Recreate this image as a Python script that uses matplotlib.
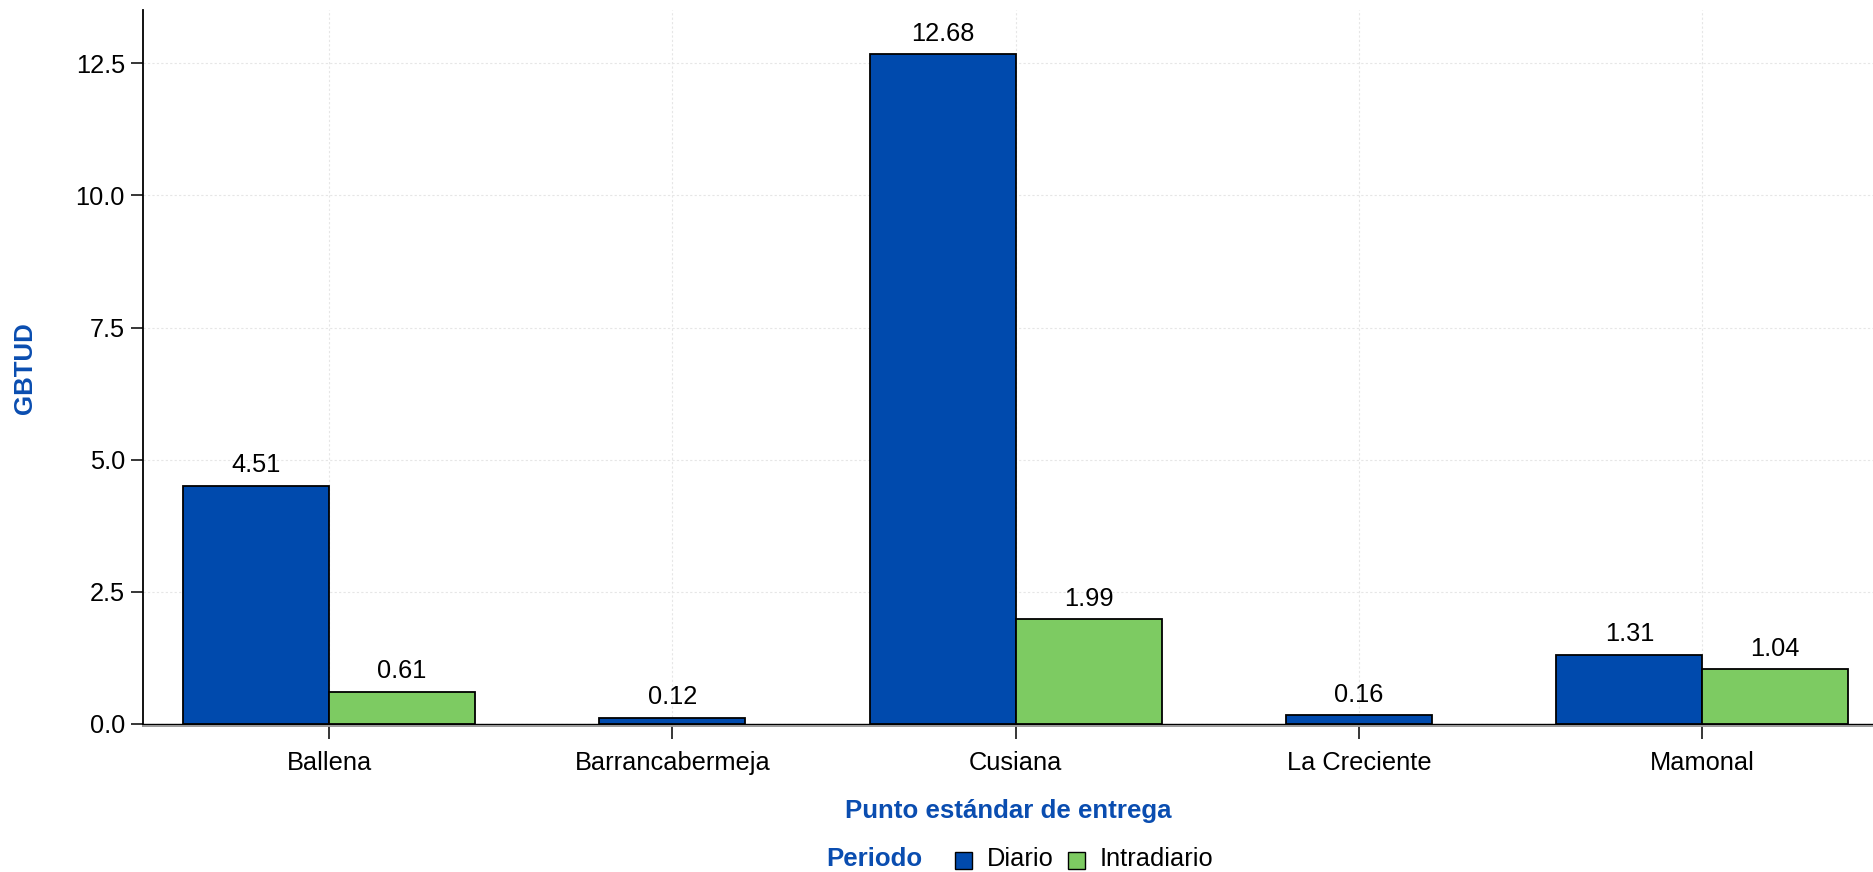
import matplotlib
matplotlib.use("Agg")
import matplotlib.pyplot as plt
from matplotlib.patches import Rectangle
import numpy as np

categories = ["Ballena", "Barrancabermeja", "Cusiana", "La Creciente", "Mamonal"]
diario = [4.51, 0.12, 12.68, 0.16, 1.31]
intradiario = [0.61, None, 1.99, None, 1.04]
series_names = ["Diario", "Intradiario"]
y_ticks = [0.0, 2.5, 5.0, 7.5, 10.0, 12.5]

BLUE = "#004AAD"
GREEN = "#7DCB62"
TITLE_BLUE = "#0A4DB0"
FONT = "Liberation Sans"
TXT = 18.3
TITLE = 18.6

plt.rcParams["font.family"] = [FONT, "DejaVu Sans"]

W, H = 1874, 872
fig = plt.figure(figsize=(W / 100, H / 100), dpi=100)
ax_left, ax_right = 143, 1874
ax_top, ax_bot = 10, 725.7
ax = fig.add_axes([ax_left / W, 1 - ax_bot / H, (ax_right - ax_left) / W, (ax_bot - ax_top) / H])

x = np.arange(len(categories))
bw = 0.425

def label(xc, v):
    ax.annotate(f"{v:.2f}", (xc, v), xytext=(0, 9.5), textcoords="offset points",
                ha="center", va="baseline", fontsize=TXT, color="black")

for i, cat in enumerate(categories):
    d, n = diario[i], intradiario[i]
    if n is None:
        ax.bar(x[i], d, width=bw, color=BLUE, edgecolor="black", linewidth=1.3, zorder=3)
        label(x[i], d)
    else:
        ax.bar(x[i] - bw / 2, d, width=bw, color=BLUE, edgecolor="black", linewidth=1.3, zorder=3)
        ax.bar(x[i] + bw / 2, n, width=bw, color=GREEN, edgecolor="black", linewidth=1.3, zorder=3)
        label(x[i] - bw / 2, d)
        label(x[i] + bw / 2, n)

ax.set_xlim(-0.542, 4.5)
ax.set_ylim(-0.035, 13.51)
ax.set_yticks(y_ticks)
ax.set_yticklabels([f"{t:.1f}" for t in y_ticks])
ax.set_xticks(x)
ax.set_xticklabels(categories)

ax.grid(True, color="#E6E6E6", linestyle=(0, (2, 2)), linewidth=0.8, zorder=0)
ax.set_axisbelow(True)

for s in ["top", "right"]:
    ax.spines[s].set_visible(False)
ax.spines["left"].set_linewidth(1.3)
ax.spines["left"].set_color("black")
ax.spines["bottom"].set_linewidth(1.4)
ax.spines["bottom"].set_color("#9A9A9A")
ax.axhline(0, color="black", linewidth=1.0, zorder=2)

ax.tick_params(axis="both", direction="out", length=9, width=1.1, color="black",
               labelsize=TXT, labelcolor="black")
ax.tick_params(axis="y", pad=4)
ax.tick_params(axis="x", pad=9)

fig.text(25 / W, 1 - 368 / H, "GBTUD", rotation=90, ha="center", va="center",
         fontsize=TITLE, fontweight="bold", color=TITLE_BLUE)
fig.text((ax_left + ax_right) / 2 / W, 1 - 811 / H, "Punto estándar de entrega",
         ha="center", va="center", fontsize=TITLE, fontweight="bold", color=TITLE_BLUE)

# legend row
ly = 859
fig.text(826 / W, 1 - ly / H, "Periodo", ha="left", va="center",
         fontsize=TITLE, fontweight="bold", color=TITLE_BLUE)
entries = [(955, 987, BLUE, series_names[0]), (1068, 1100, GREEN, series_names[1])]
sq = 17
for bx, tx, col, name in entries:
    fig.patches.append(Rectangle((bx / W, 1 - (ly + sq / 2 + 1) / H), sq / W, sq / H,
                                 transform=fig.transFigure, facecolor=col,
                                 edgecolor="black", linewidth=1.0))
    fig.text(tx / W, 1 - ly / H, name, ha="left", va="center", fontsize=TXT, color="black")

fig.savefig("out.png", dpi=100)
